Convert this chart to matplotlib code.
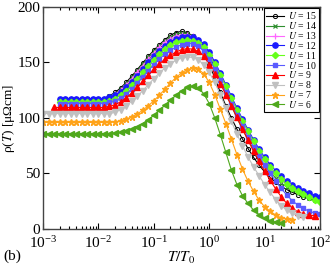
import numpy as np
import matplotlib
matplotlib.use("Agg")
import matplotlib.pyplot as plt

plt.rcParams['font.family'] = ['Liberation Serif', 'DejaVu Serif']
plt.rcParams['mathtext.fontset'] = 'stix'

# log10(T/T0) grid start exponent and step used for the sampled temperatures
log_t_start = -3.0
log_t_step = 0.1
n_grid = 51
T_grid = 10 ** (log_t_start + log_t_step * np.arange(n_grid))

U_labels = [15, 14, 13, 12, 11, 10, 9, 8, 7, 6]
start_idx = {15: 4, 14: 4, 13: 4, 12: 3, 11: 3, 10: 3, 9: 2, 8: 0, 7: 0, 6: 0}

rho_U15 = [117.5, 117.5, 117.5, 117.5, 117.5, 117.5, 117.5, 117.5,
           120, 123, 127, 132, 137.5, 143.5, 149.5, 155.5, 161, 166, 170.5, 174.5, 177, 178, 177, 174, 168.5, 160,
           149, 136, 123, 111, 100, 90, 81, 72.5, 64.5, 57.5, 51.5, 46.5, 42, 38.5, 35.5, 33, 31, 29, 27.5, 26, 25]
rho_U14 = [117.5, 117.5, 117.5, 117.5, 117.5, 117.5, 117.5, 117.5,
           119.5, 122, 126, 131, 136.5, 142.5, 148.5, 154.5, 160, 165, 169.5, 173, 175.5, 176.5, 176, 174, 170, 163.5,
           155, 145, 134, 122.5, 111, 100, 90, 80.5, 72, 64, 57, 51, 46, 41.5, 38, 35, 32.5, 30, 28, 26.5, 25]
rho_U13 = [117.5, 117.5, 117.5, 117.5, 117.5, 117.5, 117.5, 117.5,
           119, 121.5, 125, 129.5, 135, 141, 147, 153, 158.5, 163.5, 168, 171.5, 174, 175, 175, 173.5, 170.5, 165.5,
           158, 149, 139, 128, 117, 106.5, 96.5, 87, 78, 69.5, 62, 55.5, 49.5, 44.5, 40.5, 37, 34, 31.5, 29.5, 27.5, 26]
rho_U12 = [117.5, 117.5, 117.5, 117.5, 117.5, 117.5, 117.5, 117.5, 117.5,
           118.5, 120.5, 123.5, 127.5, 132.5, 138, 144, 150, 155.5, 160.5, 165, 168.5, 171, 172.5, 173, 172.5, 170.5, 166.5,
           159.5, 150.5, 140.5, 130, 119.5, 109, 99, 89.5, 80.5, 72, 64.5, 58, 52.5, 47.5, 43, 39.5, 36.5, 34, 32, 30, 28.5]
rho_U11 = [114.5, 114.5, 114.5, 114.5, 114.5, 114.5, 114.5, 114.5, 114.5,
           115.5, 117.5, 120.5, 124.5, 129.5, 135, 141, 147, 152.5, 157.5, 162, 165.5, 168, 169.5, 170, 169.5, 167.5, 164,
           157, 148.5, 139, 128.5, 118, 107.5, 97.5, 88, 79, 70.5, 63, 56, 50, 45, 40.5, 37, 34, 31.5, 29, 26.5, 24]
rho_U10 = [113, 113, 113, 113, 113, 113, 113, 113, 113,
           114, 115.5, 118, 121.5, 126, 131.5, 137, 142.5, 148, 153, 157.5, 161, 164, 166, 167, 167, 164.5, 160.5,
           153, 144, 134, 123.5, 113, 103, 93, 83, 74, 65.5, 57.5, 50, 43, 36.5, 30.5, 25.5, 21.5, 18.5, 16, 14.5, 13.5]
rho_U9 = [109.5, 109.5, 109.5, 109.5, 109.5, 109.5, 109.5, 109.5, 109.5, 109.5,
          110.5, 112, 114.5, 118, 122.5, 127.5, 133, 138.5, 144, 148.5, 153, 156.5, 159.5, 161.5, 162.5, 162, 160, 156,
          148, 140, 131, 121, 111, 100.5, 90, 80, 70, 61, 52, 44, 36, 29, 23, 18.5, 15.5, 13.5, 12.5, 12]
rho_U8 = [104, 104, 104, 104, 104, 104, 104, 104, 104, 104, 104, 104, 104,
          105, 107.5, 111, 115, 119.5, 124.5, 130, 135.5, 140.5, 145, 149, 152, 154, 155, 154.5, 152.5, 148,
          141, 132, 121, 109, 97, 85.5, 75, 65, 56, 48, 40, 33, 26.5, 21, 17, 14, 12, 10.5]
rho_U7 = [96, 96, 96, 96, 96, 96, 96, 96, 96, 96, 96, 96, 96,
          96.5, 97.5, 99, 101, 103.5, 107, 111, 115.5, 120.5, 126, 131.5, 136.5, 140.5, 143.5, 145, 144, 140,
          132, 121, 108, 95, 81, 67, 54, 43, 34, 26, 20, 16, 12.5, 10, 9, 8]
rho_U6 = [86, 86, 86, 86, 86, 86, 86, 86, 86, 86, 86, 86, 86,
          86.5, 87, 88.5, 90, 92, 95, 98.5, 102.5, 107, 111.5, 116, 120.5, 124.5, 127.5, 128.5, 127, 122,
          113, 100, 85, 69, 53, 40, 30, 23, 17, 13, 10, 7.5, 6, 5]

series = {15: rho_U15, 14: rho_U14, 13: rho_U13, 12: rho_U12, 11: rho_U11,
          10: rho_U10, 9: rho_U9, 8: rho_U8, 7: rho_U7, 6: rho_U6}

styles = {
    15: dict(color='black', marker='o', mfc='none', ms=3.0, mew=0.7),
    14: dict(color='#2f8f2f', marker='x', ms=3.2, mew=0.9),
    13: dict(color='#ff66ff', marker='+', ms=4.0, mew=0.9),
    12: dict(color='#1a1aff', marker='o', ms=3.8),
    11: dict(color='#66ff1a', marker='D', ms=3.2),
    10: dict(color='#5a5aff', marker='s', ms=3.4),
    9: dict(color='#ff0000', marker='^', ms=4.0),
    8: dict(color='#c0c0c0', marker='v', ms=4.0),
    7: dict(color='#ffa31a', marker='*', ms=4.6),
    6: dict(color='#4fa81c', marker='<', ms=4.0),
}

fig = plt.figure(figsize=(3.32, 2.68), dpi=100)
ax = fig.add_axes([0.1295, 0.1455, 0.8345, 0.8285])

for U in U_labels:
    vals = series[U]
    i0 = start_idx[U]
    T = T_grid[i0:i0 + len(vals)]
    ax.plot(T, vals, lw=0.8, label=f'$U$ = {U}', **styles[U])

ax.set_xscale('log')
ax.set_xlim(1e-3, 1e2)
ax.set_ylim(0, 200)
ax.set_yticks([0, 50, 100, 150, 200])
ax.tick_params(which='both', direction='in', top=True, right=True, labelsize=11, width=0.8)
ax.tick_params(axis='y', pad=2)
ax.tick_params(axis='x', pad=4.5)
ax.tick_params(which='major', length=4)
ax.tick_params(which='minor', length=2)
for s in ax.spines.values():
    s.set_linewidth(1.0)
    s.set_color('#444444')

ax.set_xlabel('$T/T_0$', fontsize=11, labelpad=-1)
ax.set_ylabel('ρ($T$) [μΩcm]', fontsize=9.5)
ax.yaxis.set_label_coords(-0.095, 0.5)

leg = ax.legend(loc='upper right', fontsize=7, frameon=True, fancybox=False,
                edgecolor='black', framealpha=1, borderpad=0.2, labelspacing=-0.12,
                handlelength=1.8, handletextpad=0.4, borderaxespad=0.15)
leg.get_frame().set_linewidth(0.8)

fig.text(0.01, 0.03, '(b)', fontsize=11)

fig.savefig('out.png', dpi=100)
